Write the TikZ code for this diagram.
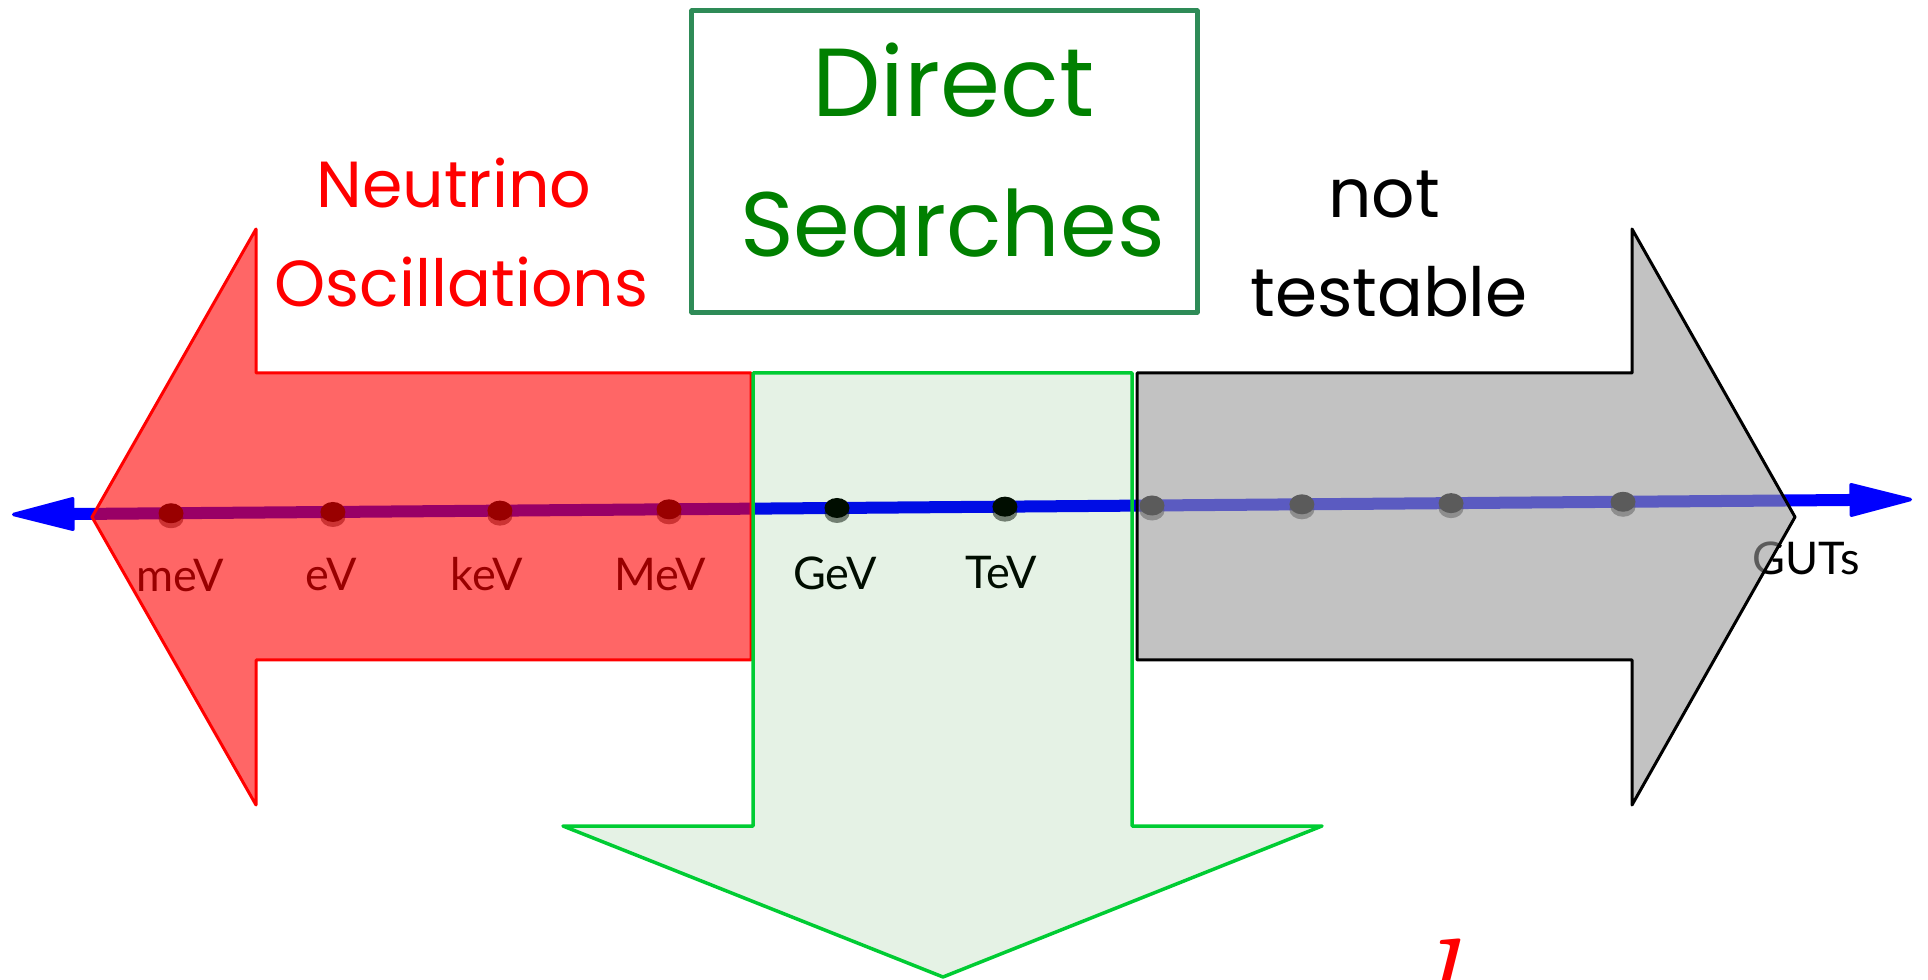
\documentclass[tikz,border=0pt]{standalone}
\usepackage{fontspec}
\newfontfamily\handfont{Poppins}
\newfontfamily\labfont{Lato}
\usetikzlibrary{arrows.meta,shapes.geometric,shadows}
\definecolor{boxgreen}{RGB}{46,139,87}
\definecolor{arrgreen}{RGB}{0,204,51}
\definecolor{txtgreen}{RGB}{0,128,0}
\begin{document}
\begin{tikzpicture}[x=0.01cm,y=-0.01cm,
  dot/.style={ellipse, fill=black, inner sep=0pt, minimum width=0.25cm, minimum height=0.2cm,
    drop shadow={shadow xshift=0pt, shadow yshift=-0.05cm, opacity=0.5, fill=black}},
  ticklab/.style={font=\labfont\fontsize{12.8}{15}\selectfont, anchor=base, inner sep=0pt},
  bigtext/.style={font=\handfont\fontsize{26}{30}\selectfont, anchor=base, inner sep=0pt, text=txtgreen},
  midtext/.style={font=\handfont\fontsize{18.5}{22}\selectfont, anchor=base, inner sep=0pt}]
\useasboundingbox (0,0) rectangle (1928,980);
\clip (0,0) rectangle (1928,980);
% axis
\coordinate (L) at (12,514.5);
\coordinate (R) at (1912,499.5);
\draw[blue, line width=0.12cm, {Triangle[length=0.68cm, width=0.34cm, line width=1pt, round]}-{Triangle[length=0.68cm, width=0.34cm, line width=1pt, round]}] (L) -- (R);
% dots
\path (L) -- (R)
  node[dot, pos=0.0837] (d1) {}
  node[dot, pos=0.1689] (d2) {}
  node[dot, pos=0.2568] (d3) {}
  node[dot, pos=0.3458] (d4) {}
  node[dot, pos=0.4342] (d5) {}
  node[dot, pos=0.5226] (d6) {}
  node[dot, pos=0.6000] (d7) {}
  node[dot, pos=0.6789] (d8) {}
  node[dot, pos=0.7574] (d9) {}
  node[dot, pos=0.8479] (d10) {};
% labels
\node[ticklab] (lmeV) at (180,592) {meV};
\node[ticklab] (leV) at (331,591) {eV};
\node[ticklab] (lkeV) at (487,591) {keV};
\node[ticklab] (lMeV) at (660,591) {MeV};
\node[ticklab] (lGeV) at (835,590) {GeV};
\node[ticklab] (lTeV) at (1001,589) {TeV};
\node[ticklab] (lGUT) at (1806,575) {GUTs};
% overlays
\draw[red, line width=0.03cm, fill=red, fill opacity=0.6, line join=round]
  (92,517) -- (256,229) -- (256,373) -- (751,373) -- (751,660) -- (256,660) -- (256,805) -- cycle;
\draw[arrgreen, line width=0.035cm, fill=txtgreen, fill opacity=0.1, line join=round]
  (753,373) -- (1132,373) -- (1132,826) -- (1322,826) -- (943,977) -- (563,826) -- (753,826) -- cycle;
\draw[black, line width=0.03cm, fill=black!40, fill opacity=0.6, line join=round]
  (1137,373) -- (1632,373) -- (1632,229) -- (1795,517) -- (1632,805) -- (1632,660) -- (1137,660) -- cycle;
% box
\node[draw=boxgreen, line width=0.05cm, line join=round, minimum width=5.05cm, minimum height=3.01cm, inner sep=0pt] (box) at (944.5,161.5) {};
\node[bigtext, font=\handfont\fontsize{27.5}{32}\selectfont] (direct) at (953.5,117) {Direct};
\node[bigtext] (searches) at (952.5,257) {Searches};
% side texts
\node[midtext, text=red] (neutrino) at (454,208) {Neutrino};
\node[midtext, text=red] (osc) at (461.5,307) {Oscillations};
\node[midtext, text=black, font=\handfont\fontsize{19.3}{23}\selectfont] (not) at (1384,218) {not};
\node[midtext, text=black, font=\handfont\fontsize{19.3}{23}\selectfont] (testable) at (1389,317) {testable};
% cropped bottom symbol
\node[red, anchor=base west, inner sep=0pt, font=\fontsize{40}{48}\selectfont\itshape] (ell) at (1418,1036) {l};
\end{tikzpicture}
\end{document}
